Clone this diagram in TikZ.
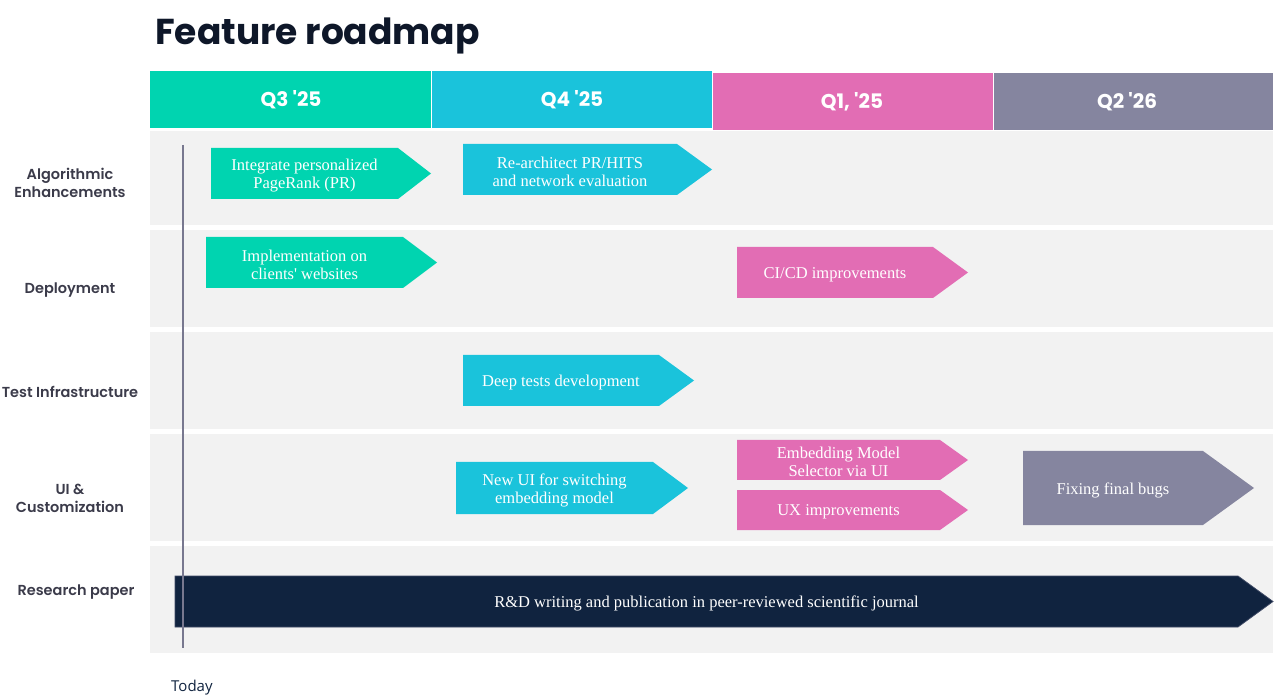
\documentclass[tikz,border=0pt]{standalone}
\usepackage{fontspec}
\usepackage{tikz}
\setmainfont{Liberation Serif}[Ligatures=TeXOff]
\newfontfamily\popfont{Poppins}[Ligatures=TeXOff]
\newfontfamily\popsemi{Poppins SemiBold}[Ligatures=TeXOff]
\newfontfamily\opensans{Open Sans}

\definecolor{qgreen}{HTML}{00D4B0}
\definecolor{qcyan}{HTML}{1AC3DB}
\definecolor{qpink}{HTML}{E26DB4}
\definecolor{qgray}{HTML}{85859F}
\definecolor{navy}{HTML}{10233F}
\definecolor{rowbg}{HTML}{F2F2F2}
\definecolor{titlecol}{HTML}{0E1729}
\definecolor{labelcol}{HTML}{3B3B4A}

\begin{document}
\begin{tikzpicture}[x=1pt,y=1pt,yscale=-1,xscale=1,
  quarter/.style={text=white,font=\popfont\bfseries\fontsize{20}{20}\selectfont},
  rowlabel/.style={text=labelcol,align=center,font=\popsemi\fontsize{14.5}{18}\selectfont},
  task/.style={text=white,align=center,inner sep=0.5pt,yshift=-2,font=\fontsize{16.5}{18}\selectfont}]
\useasboundingbox (0,0) rectangle (1283,700);

% Title
\node [anchor=base west,inner sep=0pt,text=titlecol,font=\popfont\bfseries\fontsize{36}{36}\selectfont] (title) at (155,45) {Feature roadmap};

%Flowchart: Process [id:lanes]
\fill [rowbg] (150,131) rectangle (1273,225);
\fill [rowbg] (150,230) rectangle (1273,327);
\fill [rowbg] (150,332) rectangle (1273,429);
\fill [rowbg] (150,434) rectangle (1273,541);
\fill [rowbg] (150,546) rectangle (1273,653);

%Flowchart: Process [id:quarters]
\fill [qgreen] (150,71) rectangle (431,128);
\fill [qcyan] (432,71) rectangle (712,128);
\fill [qpink] (713,73) rectangle (993,130);
\fill [qgray] (994,73) rectangle (1273,130);
\node [quarter] (q3) at (291,100) {Q3 '25};
\node [quarter] (q4) at (572,100) {Q4 '25};
\node [quarter] (q1) at (852,102) {Q1, '25};
\node [quarter] (q2) at (1127,102) {Q2 '26};

% Row labels
\node [rowlabel] (algo) at (70,183) {Algorithmic\\Enhancements};
\node [rowlabel] (deploy) at (70,290) {Deployment};
\node [rowlabel] (tests) at (70,392) {Test Infrastructure};
\node [rowlabel] (uicust) at (70,498) {UI \&\\Customization};
\node [rowlabel] (paper) at (76,592) {Research paper};

% Today line
\coordinate (todaytop) at (183,145);
\coordinate (todaybot) at (183,648);

%Flowchart: Arrow [id:tasks]
\fill [qgreen] (211,148) -- (398,148) -- (431,173.5) -- (398,199) -- (211,199) -- cycle ;
\fill [qcyan] (463,144) -- (677,144) -- (712,169.5) -- (677,195) -- (463,195) -- cycle ;
\fill [qgreen] (206,237) -- (403,237) -- (437,262.5) -- (403,288) -- (206,288) -- cycle ;
\fill [qpink] (737,247) -- (933,247) -- (968,272.5) -- (933,298) -- (737,298) -- cycle ;
\fill [qcyan] (463,355) -- (659,355) -- (694,380.5) -- (659,406) -- (463,406) -- cycle ;
\fill [qcyan] (456,462) -- (653,462) -- (688,488) -- (653,514) -- (456,514) -- cycle ;
\fill [qpink] (737,440) -- (940,440) -- (968,460) -- (940,480) -- (737,480) -- cycle ;
\fill [qpink] (737,490) -- (940,490) -- (968,510) -- (940,530) -- (737,530) -- cycle ;
\fill [qgray] (1023,451) -- (1203,451) -- (1254,488) -- (1203,525) -- (1023,525) -- cycle ;
\draw [fill=navy,draw=navy!60!qgray,line width=0.75] (175,576) -- (1238,576) -- (1273,601.5) -- (1238,627) -- (175,627) -- cycle ;

\draw [qgray!90!black,line width=1.2] (todaytop) -- (todaybot) ;
\node [anchor=base west,inner sep=0pt,text=navy,font=\opensans\fontsize{15}{15}\selectfont] (today) at (171,691) {Today};

% Text Node
\node [task] (pagerank) at (304.5,173.5) {Integrate personalized\\PageRank (PR)};
\node [task] (hits) at (570,169.5) {Re-architect PR/HITS\\and network evaluation};
\node [task] (clients) at (304.5,262.5) {Implementation on\\clients' websites};
\node [task] (cicd) at (835,272.5) {CI/CD improvements};
\node [task] (deeptests) at (561,380.5) {Deep tests development};
\node [task] (newui) at (554.5,488) {New UI for switching\\embedding model};
\node [task] (selector) at (838.5,460) {Embedding Model\\Selector via UI};
\node [task] (ux) at (838.5,510) {UX improvements};
\node [task] (bugs) at (1113,488) {Fixing final bugs};
\node [task] (rnd) at (706.5,601.5) {R\&D writing and publication in peer-reviewed scientific journal};
\end{tikzpicture}
\end{document}
